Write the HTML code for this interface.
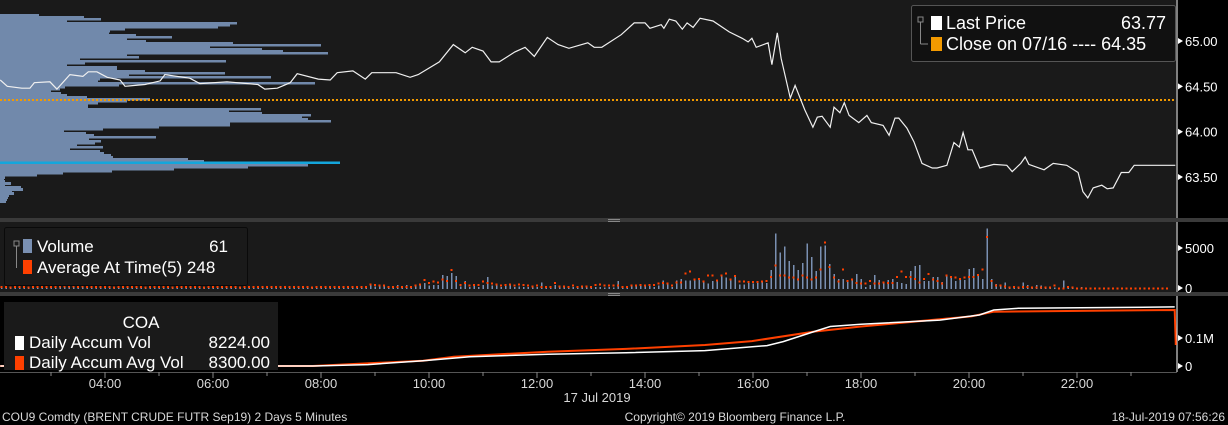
<!DOCTYPE html>
<html><head><meta charset="utf-8">
<style>
html,body{margin:0;padding:0;background:#000;}
svg{display:block;font-family:"Liberation Sans Narrow","Liberation Sans",sans-serif;}
</style></head>
<body>
<svg id="c" width="1228" height="425" viewBox="0 0 1228 425">
  <rect x="0" y="0" width="1228" height="425" fill="#000"/>
  <rect x="0" y="0" width="1176" height="218" fill="#1a1a1a"/>
  <rect x="0" y="218" width="1228" height="4" fill="#3a3a3a"/>
  <rect x="608" y="219" width="12" height="1" fill="#888"/>
  <rect x="608" y="221" width="12" height="1" fill="#888"/>
  <rect x="0" y="222" width="1176" height="70" fill="#1a1a1a"/>
  <rect x="0" y="292" width="1228" height="4" fill="#3a3a3a"/>
  <rect x="608" y="293" width="12" height="1" fill="#888"/>
  <rect x="608" y="295" width="12" height="1" fill="#888"/>
  <rect x="0" y="296" width="1176" height="76" fill="#000"/>
  <line x1="1177" y1="0" x2="1177" y2="218" stroke="#fff" stroke-width="1"/>
  <line x1="1177" y1="222" x2="1177" y2="292" stroke="#fff" stroke-width="1"/>
  <line x1="1177" y1="296" x2="1177" y2="372" stroke="#fff" stroke-width="1"/>
  <line x1="0" y1="372.5" x2="1177" y2="372.5" stroke="#555" stroke-width="1"/>
  <g id="profile" shape-rendering="crispEdges"></g>
  <g id="price"></g>
  <g id="vol" shape-rendering="crispEdges"></g>
  <g id="accum"></g>
  <g id="axes"></g>

  <g>
    <rect x="911.5" y="5.5" width="264" height="56" rx="2" fill="#111" stroke="#555"/>
    <rect x="918" y="17" width="5" height="5" fill="none" stroke="#888"/>
    <line x1="920.5" y1="22" x2="920.5" y2="44" stroke="#888"/>
    <line x1="920.5" y1="44" x2="928" y2="44" stroke="#888"/>
    <rect x="931" y="16" width="11" height="14" fill="#fff"/>
    <text x="946" y="29" fill="#fff" font-size="18">Last Price</text>
    <text x="1166" y="29" fill="#fff" font-size="18" text-anchor="end">63.77</text>
    <rect x="931" y="37" width="11" height="14" fill="#f39a00"/>
    <text x="946" y="50" fill="#fff" font-size="18">Close on 07/16 ---- 64.35</text>
  </g>

  <g>
    <rect x="4.5" y="227.5" width="243" height="58" rx="2" fill="#1a1a1a" stroke="#0a0a0a"/>
    <rect x="14" y="241" width="5" height="5" fill="none" stroke="#888"/>
    <line x1="16.5" y1="246" x2="16.5" y2="268" stroke="#888"/>
    <rect x="23" y="239" width="9" height="14" fill="#7a90b2"/>
    <text x="37" y="252" fill="#fff" font-size="17">Volume</text>
    <text x="228" y="252" fill="#fff" font-size="17" text-anchor="end">61</text>
    <rect x="23" y="260" width="9" height="14" fill="#ff4000"/>
    <text x="37" y="273" fill="#fff" font-size="17">Average At Time(5) 248</text>
  </g>

  <g>
    <rect x="4" y="302" width="274" height="68" fill="#1a1a1a"/>
    <text x="141" y="328" fill="#fff" font-size="17" text-anchor="middle">COA</text>
    <rect x="15" y="336" width="9" height="14" fill="#fff"/>
    <text x="29" y="348" fill="#fff" font-size="17">Daily Accum Vol</text>
    <text x="270" y="348" fill="#fff" font-size="17" text-anchor="end">8224.00</text>
    <rect x="15" y="356" width="9" height="14" fill="#ff4000"/>
    <text x="29" y="368" fill="#fff" font-size="17">Daily Accum Avg Vol</text>
    <text x="270" y="368" fill="#fff" font-size="17" text-anchor="end">8300.00</text>
  </g>

  <text x="597" y="402" fill="#d8d8d8" font-size="13" text-anchor="middle">17 Jul 2019</text>
  <text x="2" y="421" fill="#d8d8d8" font-size="12">COU9 Comdty (BRENT CRUDE FUTR  Sep19) 2 Days 5 Minutes</text>
  <text x="735" y="421" fill="#d8d8d8" font-size="12" text-anchor="middle">Copyright© 2019 Bloomberg Finance L.P.</text>
  <text x="1225" y="421" fill="#d8d8d8" font-size="12" text-anchor="end">18-Jul-2019 07:56:26</text>
</svg>
<script>
// ---- data ----
const priceTimes = [2.06,2.19,2.46,2.61,2.69,2.98,3.11,3.35,3.59,3.69,3.85,4.04,4.28,4.37,4.74,5.02,5.11,5.57,5.76,6.26,6.83,6.96,7.19,7.43,7.56,7.95,8.17,8.30,8.59,8.82,8.94,9.39,9.65,9.80,10.19,10.45,10.67,10.80,11.00,11.15,11.30,11.59,11.78,11.95,12.19,12.39,12.59,12.94,13.06,13.20,13.56,13.80,14.00,14.09,14.30,14.35,14.45,14.57,14.69,14.78,14.89,15.02,15.26,15.56,15.80,15.91,15.98,16.06,16.28,16.35,16.45,16.52,16.69,16.78,16.96,17.11,17.19,17.28,17.43,17.50,17.61,17.69,17.78,17.96,18.11,18.19,18.41,18.52,18.63,18.70,18.85,18.98,19.13,19.32,19.41,19.59,19.72,19.82,19.89,19.98,20.06,20.20,20.46,20.70,20.80,20.96,21.04,21.11,21.39,21.56,21.81,22.02,22.11,22.20,22.30,22.46,22.56,22.67,22.82,22.96,23.06,23.82];
const priceValues = [64.57,64.50,64.48,64.48,64.54,64.55,64.47,64.63,64.61,64.66,64.66,64.60,64.57,64.50,64.52,64.56,64.63,64.59,64.53,64.55,64.52,64.47,64.48,64.54,64.64,64.58,64.57,64.65,64.67,64.58,64.65,64.65,64.60,64.63,64.77,64.96,64.87,64.93,64.89,64.77,64.77,64.88,64.93,64.83,65.04,64.96,64.92,64.98,64.93,64.93,65.07,65.20,65.20,65.14,65.18,65.14,65.24,65.22,65.13,65.20,65.15,65.25,65.22,65.10,65.03,64.99,65.03,64.93,64.98,64.74,65.09,64.81,64.37,64.51,64.24,64.05,64.16,64.17,64.05,64.27,64.21,64.32,64.18,64.10,64.18,64.10,64.07,63.96,64.15,64.15,64.04,63.89,63.65,63.60,63.60,63.63,63.88,63.83,63.99,63.80,63.80,63.60,63.64,63.63,63.56,63.65,63.72,63.64,63.58,63.65,63.63,63.55,63.34,63.27,63.38,63.41,63.37,63.38,63.55,63.55,63.63,63.63];
const closePrice = 64.35;
const pocPrice = 63.66;
const priceTicks = [65.00,64.50,64.00,63.50];
const priceTickLabels = ["65.00","64.50","64.00","63.50"];
const profileTopPrice = 65.30;
const profileStep = 0.0221;
const profileVolumes = [39,84,101,67,237,230,218,125,110,109,136,172,127,146,233,321,210,262,283,328,127,139,80,226,85,67,117,117,145,225,129,271,100,98,315,119,65,60,51,61,67,87,150,127,98,88,88,261,229,262,311,302,308,331,230,230,159,103,64,86,94,156,89,101,95,77,103,70,100,104,111,113,188,204,241,308,248,174,112,63,37,5,4,5,11,5,21,23,12,14,9,8,7,6];
const pocVolume = 340;

const volStartHour = 2.0833;
const volStepHours = 5/60;
const volumes = [170,250,170,250,340,250,170,250,250,340,250,170,250,340,420,420,340,340,420,340,250,250,340,250,170,250,340,250,250,170,250,340,250,250,170,250,250,340,250,170,250,250,170,250,340,250,170,250,250,170,250,250,340,250,170,250,250,170,250,250,340,250,170,250,250,170,250,340,250,250,170,250,250,170,250,250,340,250,170,250,
250,250,590,340,340,340,250,250,500,250,500,250,420,590,760,420,500,500,1760,1600,2020,1600,340,1010,250,420,250,500,1510,420,590,250,500,590,250,340,250,250,250,250,840,250,250,500,250,170,170,250,250,170,250,170,250,250,170,250,170,1010,170,170,420,340,420,340,420,250,420,1090,590,250,1090,1260,1090,1090,1090,1260,1010,670,1010,1180,1760,1430,1090,1680,590,590,
800,700,900,
840,760,2350,6930,4540,5290,3530,3020,2390,3280,5670,4030,2270,5290,5420,3150,1890,1260,1260,1010,1260,1890,1260,250,500,1760,1130,880,1130,1260,880,760,630,2270,2900,3020,1010,1010,1510,1510,880,1640,1640,1010,1260,1130,2520,2650,1640,1260,7560,1260,630,340,840,340,340,340,840,500,250,500,420,250,250,170,170,1090,340,170,170,250,170,170,170,170,
40,0,40,0,0,40,0,0,0,40,0,0,0,0,40];
const avgAtTime = [250,250,170,250,250,250,170,250,250,250,250,250,250,340,340,340,340,250,340,250,250,250,250,250,250,170,250,250,250,250,250,250,170,250,250,250,250,250,170,250,250,250,250,250,250,170,250,250,250,250,250,250,250,170,250,250,250,250,250,250,250,250,250,250,250,250,250,250,250,170,250,250,250,250,250,250,250,250,250,250,
250,250,590,500,420,420,250,250,250,250,250,250,420,590,1130,760,920,840,1180,1000,2390,1010,500,760,420,500,500,920,760,670,590,420,500,590,420,590,500,420,340,420,250,250,250,760,340,340,250,420,250,340,340,250,500,590,420,420,420,420,250,250,420,420,500,420,500,500,670,760,670,420,840,840,1930,2180,1180,1260,920,1680,1680,1090,1680,1930,1180,1600,920,920,
900,900,900,
920,1010,1510,2940,1680,1680,1430,1430,1180,1680,1430,1180,1430,2440,5800,2770,1430,920,2440,1010,1180,760,670,670,1010,670,670,840,760,760,1510,2180,1510,1510,1260,840,1260,1890,1180,1010,670,1680,1510,1430,1260,1430,1510,1510,1760,2440,6470,1010,420,420,340,170,250,170,250,250,170,170,170,170,170,420,80,80,250,170,80,80,80,80,80,80,
80,80,80,80,80,80,80,80,80,80,80,80,80,80,80];
const volTicks = [5000,0];
const volTickLabels = ["5000","0"];

const accumTimes = [2.06,7.85,8.87,9.89,10.76,12.20,13.65,15.11,16.26,16.56,17.13,17.43,18.00,19.46,20.19,20.46,20.91,22.07,23.81];
const accumVol = [0,0,5,19,33,42,47,55,73,87,123,141,149,164,182,200,206,208,211];
const accumAvgTimes = [2.06,7.85,9.89,10.46,12.20,13.65,15.11,15.98,17.13,18.00,20.04,20.46,23.81,23.83];
const accumAvg = [0,0,19,33,51,61,75,89,123,141,177,194,200,75];
const accumTicks = [100,0];
const accumTickLabels = ["0.1M","0"];

const hourTicks = [4,6,8,10,12,14,16,18,20,22];
const hourTickLabels = ["04:00","06:00","08:00","10:00","12:00","14:00","16:00","18:00","20:00","22:00"];
const minorHours = [3,5,7,9,11,13,15,17,19,21,23];

// ---- scales ----
const NS = "http://www.w3.org/2000/svg";
const xH = h => 105 + (h - 4) * 54;
const yP = p => 41 + (65 - p) * 90.7;
const yV = v => 289 - v * 40 / 5000;
const yA = k => 366 - k * 0.28;
function mk(tag, attrs, parent) {
  const e = document.createElementNS(NS, tag);
  for (const k in attrs) e.setAttribute(k, attrs[k]);
  parent.appendChild(e);
  return e;
}

// volume profile
const gProf = document.getElementById('profile');
profileVolumes.forEach((v, i) => {
  const p = profileTopPrice - i * profileStep;
  const r = mk('rect', {x: 0, y: yP(p).toFixed(1), width: v, height: 2.6, fill: '#7189ab'}, gProf);
  
  
});
const poc = mk('rect', {x: 0, y: yP(pocPrice) - 1, width: pocVolume, height: 2.5, fill: '#14a6dc'}, gProf);



// price
const gPrice = document.getElementById('price');
const cl = mk('line', {x1: 0, x2: 1176, y1: yP(closePrice), y2: yP(closePrice), stroke: '#f39a00', 'stroke-width': 2, 'stroke-dasharray': '2 2'}, gPrice);


const pl = mk('polyline', {points: priceTimes.map((t, i) => xH(t).toFixed(1) + ',' + yP(priceValues[i]).toFixed(1)).join(' '), fill: 'none', stroke: '#f0f0f0', 'stroke-width': 1.2}, gPrice);



// volume bars
const gVol = document.getElementById('vol');
volumes.forEach((v, i) => {
  const x = xH(volStartHour + i * volStepHours);
  if (v > 0) {
    const b = mk('rect', {x: (x - 0.7).toFixed(1), y: yV(v).toFixed(1), width: 1.5, height: (289 - yV(v)).toFixed(1), fill: '#7a90b2'}, gVol);
    
    
  }
  const a = avgAtTime[i];
  const m = mk('rect', {x: (x - 1).toFixed(1), y: (yV(a) - 1).toFixed(1), width: 2, height: 2, fill: '#ff4000'}, gVol);
  
  
});

// accum
const gAcc = document.getElementById('accum');
const la = mk('polyline', {points: accumAvgTimes.map((t, i) => xH(t).toFixed(1) + ',' + yA(accumAvg[i]).toFixed(1)).join(' '), fill: 'none', stroke: '#ff4000', 'stroke-width': 2}, gAcc);


const lv = mk('polyline', {points: accumTimes.map((t, i) => xH(t).toFixed(1) + ',' + yA(accumVol[i]).toFixed(1)).join(' '), fill: 'none', stroke: '#ffffff', 'stroke-width': 1.5}, gAcc);



// axes
const gAx = document.getElementById('axes');
function ylab(y, txt, name) {
  const tri = mk('path', {d: `M1178 ${y - 3} L1183 ${y} L1178 ${y + 3} Z`, fill: '#fff'}, gAx);
  
  
  const t = mk('text', {x: 1185, y: y + 5, fill: '#fff', 'font-size': 13}, gAx);
  t.textContent = txt;
  
  
}
priceTicks.forEach((p, i) => ylab(yP(p), priceTickLabels[i], 'price-tick-label'));
volTicks.forEach((v, i) => ylab(yV(v) - 1, volTickLabels[i], 'volume-tick-label'));
accumTicks.forEach((v, i) => ylab(yA(v), accumTickLabels[i], 'accum-tick-label'));
hourTicks.forEach((h, i) => {
  const x = xH(h);
  const tk = mk('line', {x1: x, x2: x, y1: 372, y2: 378, stroke: '#888'}, gAx);
  
  
  const t = mk('text', {x: x, y: 388, fill: '#d8d8d8', 'font-size': 13, 'text-anchor': 'middle'}, gAx);
  t.textContent = hourTickLabels[i];
  
  
});
minorHours.forEach(h => {
  const x = xH(h);
  const tk = mk('line', {x1: x, x2: x, y1: 372, y2: 376, stroke: '#888'}, gAx);
  
  
});
</script>
</body></html>
